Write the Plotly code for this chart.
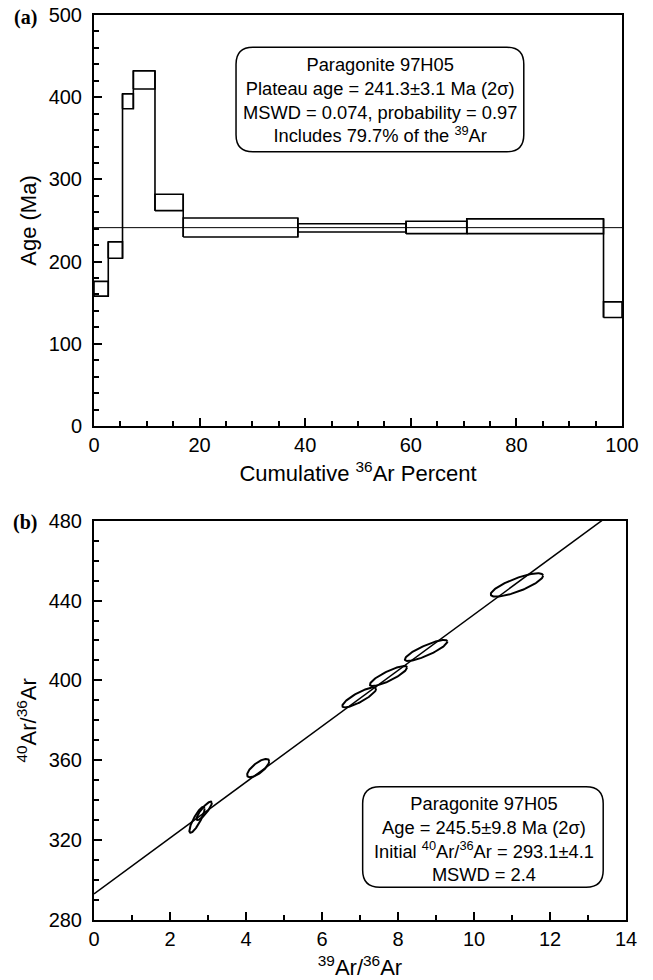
import numpy as np
import plotly.graph_objects as go

# ---------------- data: (a) age spectrum ----------------
cum_pct_edges = [0, 2.7, 5.4, 7.45, 11.55, 16.9, 38.6, 59.1, 70.6, 96.5, 100]
age_lo = [158, 204, 386, 410, 262, 230, 236, 234, 234, 132]
age_hi = [176, 224, 404, 432, 282, 253, 246, 249, 252, 151]
plateau_age = 241.3

# ---------------- data: (b) isochron ----------------
ell_x = [2.71, 2.90, 4.32, 6.98, 7.75, 8.74, 11.13]
ell_y = [330.2, 334.7, 356.1, 391.5, 402.2, 415.0, 447.8]
ell_sx = [0.20, 0.20, 0.29, 0.445, 0.49, 0.56, 0.69]
ell_sy = [6.5, 4.6, 4.6, 5.0, 5.0, 5.25, 5.85]
ell_rho = [0.85, 0.86, 0.74, 0.85, 0.85, 0.85, 0.80]
iso_intercept = 293.1
iso_slope = 13.99

SANS = "Liberation Sans, Arial, Helvetica, sans-serif"
SERIF = "Liberation Serif, Times New Roman, serif"

fig = go.Figure()

# step outline (rectangles + vertical connectors)
sx, sy = [], []
for i in range(len(age_lo)):
    x0, x1 = cum_pct_edges[i], cum_pct_edges[i + 1]
    lo, hi = age_lo[i], age_hi[i]
    sx += [x0, x1, x1, x0, x0, None]
    sy += [lo, lo, hi, hi, lo, None]
for i in range(len(age_lo) - 1):
    xb = cum_pct_edges[i + 1]
    sx += [xb, xb, None]
    sy += [min(age_lo[i], age_lo[i + 1]), max(age_hi[i], age_hi[i + 1]), None]
fig.add_trace(go.Scatter(x=sx, y=sy, mode="lines", line=dict(color="black", width=1.6),
                         xaxis="x", yaxis="y", showlegend=False, hoverinfo="skip"))
fig.add_trace(go.Scatter(x=[0, 100], y=[plateau_age, plateau_age], mode="lines",
                         line=dict(color="black", width=1), xaxis="x", yaxis="y",
                         showlegend=False, hoverinfo="skip"))

# isochron line
fig.add_trace(go.Scatter(x=[0, 14], y=[iso_intercept, iso_intercept + iso_slope * 14], mode="lines",
                         line=dict(color="black", width=1.5), xaxis="x2", yaxis="y2",
                         showlegend=False, hoverinfo="skip"))
# error ellipses
t = np.linspace(0, 2 * np.pi, 120)
ex, ey = [], []
for cx, cy, a, b, r in zip(ell_x, ell_y, ell_sx, ell_sy, ell_rho):
    ex += list(cx + a * np.cos(t)) + [None]
    ey += list(cy + b * (r * np.cos(t) + np.sqrt(1 - r * r) * np.sin(t))) + [None]
fig.add_trace(go.Scatter(x=ex, y=ey, mode="lines", line=dict(color="black", width=2),
                         xaxis="x2", yaxis="y2", showlegend=False, hoverinfo="skip"))


def rounded(x0, x1, y0, y1, rx, ry):
    return (f"M {x0+rx},{y0} L {x1-rx},{y0} Q {x1},{y0} {x1},{y0+ry} "
            f"L {x1},{y1-ry} Q {x1},{y1} {x1-rx},{y1} L {x0+rx},{y1} "
            f"Q {x0},{y1} {x0},{y1-ry} L {x0},{y0+ry} Q {x0},{y0} {x0+rx},{y0} Z")


fig.add_shape(type="path", path=rounded(26.9, 81.4, 333.7, 460.7, 3.2, 20.7),
              xref="x", yref="y", line=dict(color="black", width=1.5), fillcolor="white")
fig.add_shape(type="path", path=rounded(7.07, 13.4, 296.4, 346.8, 0.45, 8.5),
              xref="x2", yref="y2", line=dict(color="black", width=1.5), fillcolor="white")

fig.add_annotation(x=54.2, y=396.2, xref="x", yref="y", showarrow=False,
                   text="Paragonite 97H05<br>Plateau age = 241.3±3.1 Ma (2σ)<br>"
                        "MSWD = 0.074, probability = 0.97<br>Includes 79.7% of the <sup>39</sup>Ar",
                   font=dict(family=SANS, size=18.3, color="black"), align="center")
fig.add_annotation(x=10.26, y=320.6, xref="x2", yref="y2", showarrow=False,
                   text="Paragonite 97H05<br>Age = 245.5±9.8 Ma (2σ)<br>"
                        "Initial <sup>40</sup>Ar/<sup>36</sup>Ar = 293.1±4.1<br>MSWD = 2.4",
                   font=dict(family=SANS, size=18.3, color="black"), align="center")

axis_common = dict(showline=True, linewidth=2, linecolor="black", mirror=True,
                   ticks="inside", ticklen=8, tickwidth=1.5, tickcolor="black",
                   showgrid=False, zeroline=False, automargin=False,
                   ticklabeloverflow="allow",
                   tickfont=dict(family=SANS, size=20, color="black"),
                   title_font=dict(family=SANS, size=22, color="black"))

W, H = 653, 980
ml, mt = 94, 15
mr = W - 626
mb = H - 920
ph = H - mt - mb
pw = W - ml - mr

fig.update_layout(
    width=W, height=H, margin=dict(l=ml, r=mr, t=mt, b=mb, autoexpand=False),
    paper_bgcolor="white", plot_bgcolor="white",
    xaxis=dict(axis_common, domain=[0, (622 - 94) / pw], range=[0, 100], dtick=20,
               minor=dict(dtick=5, ticklen=5, ticks="inside", tickcolor="black", tickwidth=1.5),
               title=dict(text="Cumulative <sup>36</sup>Ar Percent", standoff=11), anchor="y"),
    yaxis=dict(axis_common, domain=[(920 - 426) / ph, 1], range=[0, 500], dtick=100,
               minor=dict(dtick=20, ticklen=5, ticks="inside", tickcolor="black", tickwidth=1.5),
               title=dict(text="Age (Ma)", standoff=6), anchor="x", ticklabelstandoff=6),
    xaxis2=dict(axis_common, domain=[0, 1], range=[0, 14], dtick=2,
                minor=dict(dtick=1, ticklen=5, ticks="inside", tickcolor="black", tickwidth=1.5),
                title=dict(text="<sup>39</sup>Ar/<sup>36</sup>Ar", standoff=11), anchor="y2"),
    yaxis2=dict(axis_common, domain=[0, (920 - 520.7) / ph], range=[280, 480], dtick=40,
                minor=dict(dtick=10, ticklen=5, ticks="inside", tickcolor="black", tickwidth=1.5),
                title=dict(text="<sup>40</sup>Ar/<sup>36</sup>Ar", standoff=6), anchor="x2",
                ticklabelstandoff=6),
)

# panel labels in pixel-derived paper coords
for lab, ypx in (("(a)", 17), ("(b)", 522)):
    fig.add_annotation(x=(25 - ml) / pw, y=(920 - ypx) / ph, xref="paper", yref="paper",
                       text=f"<b>{lab}</b>", showarrow=False, xanchor="center", yanchor="middle",
                       font=dict(family=SERIF, size=20, color="black"))

# remove the browser's default 8px body margin so the figure fills the window exactly
fig.write_html("out.html", config={"displayModeBar": False},
               post_script="document.body.style.margin='0';document.body.style.overflow='hidden';")
